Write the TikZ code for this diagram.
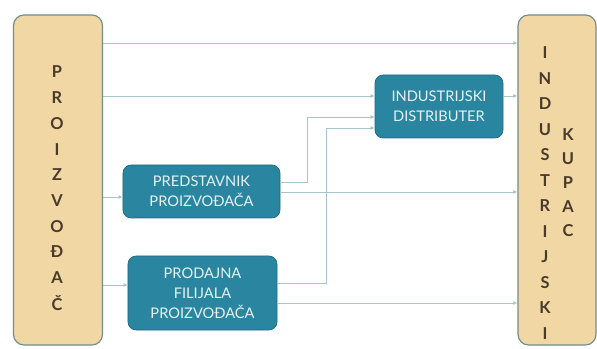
\documentclass[tikz,border=0pt]{standalone}
\usepackage{fontspec}
\setsansfont{Lato}
\usetikzlibrary{positioning,arrows.meta}

\definecolor{drvo}{HTML}{F0D7A4}
\definecolor{rubdrvo}{HTML}{6E8E8A}
\definecolor{tirkiz}{HTML}{2A86A0}
\definecolor{rubtirkiz}{HTML}{1E6C80}
\definecolor{linija}{HTML}{A8C5C9}
\definecolor{slova}{HTML}{4A3A2A}
\definecolor{svijetlo}{HTML}{E4F3F6}

\begin{document}
\begin{tikzpicture}[>=Latex,x=0.03cm,y=-0.03cm,font=\sffamily,
  stub/.style={draw=rubdrvo,fill=drvo,rounded corners=9pt,line width=1pt},
  kutija/.style={draw=rubtirkiz,fill=tirkiz,rounded corners=7pt,line width=0.6pt,
    text=svijetlo,align=center,font=\sffamily\fontsize{12.5}{17}\selectfont},
  slovo/.style={text=slova,font=\sffamily\bfseries\fontsize{14}{16}\selectfont,inner sep=0pt},
  veza/.style={draw=linija,line width=0.8pt,-{Latex[length=3.5pt,width=3.5pt]}}]
  \useasboundingbox (0,0) rectangle (597,349);
  % left and right columns
  \node[stub,minimum width=2.67cm,minimum height=9.9cm] (proizv) at (58,180) {};
  \node[stub,minimum width=2.34cm,minimum height=9.9cm] (kupac) at (557,180) {};
  \foreach \s [count=\i] in {P,R,O,I,Z,V,O,Đ,A,Č}
    \node[slovo] (p\i) at (57,{72+(\i-1)*25.7}) {\s};
  \foreach \s [count=\i] in {I,N,D,U,S,T,R,I,J,S,K,I}
    \node[slovo] (k\i) at (545,{53+(\i-1)*25.5}) {\s};
  \foreach \s [count=\i] in {K,U,P,A,C}
    \node[slovo] (u\i) at (568,{135+(\i-1)*23.8}) {\s};
  % middle boxes
  \node[kutija,minimum width=3.84cm,minimum height=1.89cm] (distr) at (439,106.5) {INDUSTRIJSKI\\DISTRIBUTER};
  \node[kutija,minimum width=4.71cm,minimum height=1.59cm] (pred) at (201.5,191.5) {PREDSTAVNIK\\PROIZVOĐAČA};
  \node[kutija,minimum width=4.47cm,minimum height=2.22cm] (prod) at (202.5,293) {PRODAJNA\\FILIJALA\\PROIZVOĐAČA};
  % connectors
  \draw[veza] (proizv.east |- 0,43) -- (kupac.west |- 0,43);
  \draw[veza] (proizv.east |- 0,96) -- (distr.west |- 0,96);
  \draw[veza] (distr.east |- 0,96) -- (kupac.west |- 0,96);
  \draw[veza] (proizv.east |- 0,197) -- (pred.west |- 0,197);
  \draw[veza] (pred.east |- 0,182) -- (307,182) |- (distr.west |- 0,117);
  \draw[veza] (pred.east |- 0,192) -- (kupac.west |- 0,192);
  \draw[veza] (proizv.east |- 0,285) -- (prod.west |- 0,285);
  \draw[veza] (prod.east |- 0,283) -- (326,283) |- (distr.west |- 0,128);
  \draw[veza] (prod.east |- 0,303) -- (kupac.west |- 0,303);
\end{tikzpicture}
\end{document}
